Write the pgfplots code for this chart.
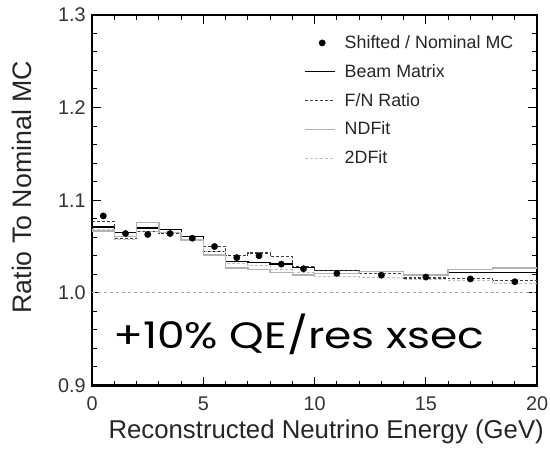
\documentclass[border=0pt]{standalone}
\usepackage{fontspec}
\setmainfont{Liberation Sans}
\newfontfamily\bigfont[FakeStretch=1.2]{Poppins}
\usepackage{pgfplots}
\pgfplotsset{compat=1.18}
\pgfplotsset{
  stepleg/.style={legend image code/.code={\draw[##1] (0pt,0pt) -- (30pt,0pt); \path (37pt,0pt);}},
  dotleg/.style={legend image code/.code={\draw[mark repeat=2, mark phase=2, ##1] plot coordinates {(0pt,0pt) (17pt,0pt) (30pt,0pt)}; \path (37pt,0pt);}},
}

\begin{document}
\begin{tikzpicture}
\begin{axis}[
  name=main,
  scale only axis,
  width=449pt, height=374pt,
  xmin=0, xmax=20, ymin=0.9, ymax=1.3,
  xtick={0,5,10,15,20},
  ytick={0.9,1.0,1.1,1.2,1.3},
  minor x tick num=4,
  minor y tick num=4,
  tick align=inside,
  major tick length=9pt,
  minor tick length=5pt,
  every tick/.style={black, line width=1pt},
  axis line style={line width=2.4pt},
  /pgf/number format/assume math mode=true,
  yticklabel style={/pgf/number format/fixed, /pgf/number format/fixed zerofill,
    /pgf/number format/precision=1, xshift=-3pt},
  xticklabel style={yshift=-8pt},
  ticklabel style={font=\fontsize{20}{24}\selectfont, text=black!80},
  xlabel={Reconstructed Neutrino Energy (GeV)},
  ylabel={Ratio To Nominal MC},
  label style={text=black!85},
  xlabel style={font=\fontsize{26}{30}\selectfont, at={(axis description cs:0.526,-0.125)}, anchor=center},
  ylabel style={font=\fontsize{27}{31}\selectfont, at={(axis description cs:-0.158,0.535)}, anchor=center},
  legend style={draw=none, fill=none, at={(0.958,0.955)}, anchor=north east,
    font=\fontsize{18}{21}\selectfont, row sep=10.5pt, text=black!85},
  legend cell align=left,
  stepleg,
]
% nominal reference line
\addplot[gray!70, dashed, line width=0.8pt, forget plot] coordinates {(0,1.0) (20,1.0)};

% shifted / nominal MC, one point per energy bin
\addplot[only marks, mark=*, mark size=3.2pt, black, dotleg] coordinates {
  (0.5,1.083) (1.5,1.064) (2.5,1.063) (3.5,1.064) (4.5,1.059)
  (5.5,1.050) (6.5,1.038) (7.5,1.040) (8.5,1.031) (9.5,1.026)
  (11,1.021) (13,1.019) (15,1.017) (17,1.015) (19,1.012)};
\addlegendentry{Shifted / Nominal MC}

% Beam Matrix prediction
\addplot[const plot, black, line width=1.3pt] coordinates {
  (0,1.071) (1,1.065) (2,1.070) (3,1.068) (4,1.061) (5,1.045)
  (6,1.034) (7,1.033) (8,1.031) (9,1.027) (10,1.024) (12,1.023)
  (14,1.020) (16,1.022) (18,1.022) (20,1.022)};
\addlegendentry{Beam Matrix}

% F/N ratio prediction
\addplot[const plot, black!75, densely dashed, line width=1.1pt] coordinates {
  (0,1.077) (1,1.059) (2,1.066) (3,1.064) (4,1.058) (5,1.050)
  (6,1.040) (7,1.043) (8,1.039) (9,1.028) (10,1.024) (12,1.021)
  (14,1.016) (16,1.015) (18,1.013) (20,1.013)};
\addlegendentry{F/N Ratio}

% NDFit prediction
\addplot[const plot, black!30, line width=1.5pt] coordinates {
  (0,1.067) (1,1.061) (2,1.076) (3,1.065) (4,1.057) (5,1.041)
  (6,1.027) (7,1.025) (8,1.022) (9,1.019) (10,1.021) (12,1.023)
  (14,1.019) (16,1.025) (18,1.027) (20,1.027)};
\addlegendentry{NDFit}

% 2DFit prediction
\addplot[const plot, black!25, densely dashed, line width=0.9pt] coordinates {
  (0,1.068) (1,1.058) (2,1.066) (3,1.065) (4,1.057) (5,1.045)
  (6,1.032) (7,1.030) (8,1.025) (9,1.022) (10,1.018) (12,1.017)
  (14,1.014) (16,1.013) (18,1.010) (20,1.010)};
\addlegendentry{2DFit}

\node[font=\bigfont\fontsize{37}{42}\selectfont, anchor=base] at (axis cs:9.29,0.940) {+10\% QE/res xsec};
\end{axis}
% page frame around the plot
\pgfresetboundingbox
\path (main.south west) ++(-93pt,-67pt) rectangle ([shift={(13pt,15pt)}]main.north east);
\end{tikzpicture}
\end{document}
